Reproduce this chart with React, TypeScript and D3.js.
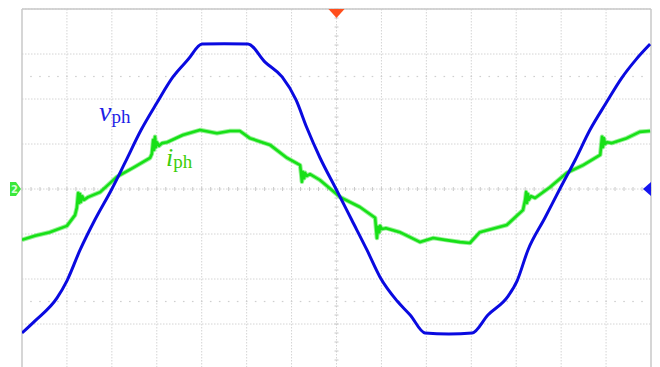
import React from "react";
import * as d3 from "d3";

// Screen geometry: 14 horizontal divisions, 8 vertical divisions (bottom row clipped).
const WIDTH = 660;
const HEIGHT = 367;
const PLOT_LEFT = 22;
const PLOT_RIGHT = 651;
const PLOT_TOP = 9;
const DIV_PX = 45;

const xDivisions = d3.range(0, 15);
const yDivisions = d3.range(-4, 5);

// Phase voltage v_ph : [time (div), amplitude (div)]
const phaseVoltage: [number, number][] = [
  [0, -3.2], [0.29, -2.93], [0.78, -2.42], [1.0, -2.04], [1.29, -1.36],
  [1.62, -0.69], [2.0, 0], [2.29, 0.58], [2.65, 1.31], [3.0, 1.91],
  [3.36, 2.49], [3.69, 2.87], [4.01, 3.22], [4.5, 3.23], [5.03, 3.22],
  [5.41, 2.82], [5.79, 2.49], [6.1, 1.98], [6.34, 1.36], [6.63, 0.7],
  [6.99, 0], [7.34, -0.69], [7.68, -1.36], [7.97, -1.96], [8.35, -2.49],
  [8.64, -2.8], [8.97, -3.2], [9.5, -3.22], [10.02, -3.2], [10.37, -2.8],
  [10.82, -2.38], [11.02, -2.04], [11.26, -1.36], [11.64, -0.64], [11.97, 0],
  [12.31, 0.64], [12.64, 1.31], [13.0, 1.91], [13.35, 2.47], [13.66, 2.87],
  [13.98, 3.22],
];

// Phase current i_ph : [time (div), amplitude (div)]
const phaseCurrent: [number, number][] = [
  [0.0, -1.13], [0.29, -1.04], [0.62, -0.96], [1.0, -0.82], [1.18, -0.58],
  [1.22, -0.42], [1.25, -0.09], [1.27, -0.31], [1.29, -0.11], [1.31, -0.29],
  [1.34, -0.16], [1.38, -0.24], [1.47, -0.18], [1.74, -0.07], [2.11, 0.27],
  [2.47, 0.47], [2.85, 0.69], [2.89, 0.78], [2.92, 1.09], [2.94, 0.87],
  [2.96, 1.16], [2.98, 0.93], [3.0, 1.04], [3.05, 0.96], [3.12, 1.02],
  [3.23, 1.04], [3.58, 1.2], [3.96, 1.31], [4.34, 1.24], [4.63, 1.29],
  [4.85, 1.29], [5.07, 1.13], [5.52, 0.98], [5.9, 0.69], [6.19, 0.53],
  [6.21, 0.36], [6.23, 0.16], [6.25, 0.38], [6.28, 0.24], [6.3, 0.36],
  [6.34, 0.29], [6.41, 0.33], [6.63, 0.2], [7.08, -0.18], [7.52, -0.4],
  [7.86, -0.64], [7.88, -0.87], [7.9, -1.09], [7.92, -0.84], [7.95, -0.96],
  [7.97, -0.82], [8.01, -0.89], [8.1, -0.87], [8.41, -0.96], [8.86, -1.18],
  [9.15, -1.09], [9.41, -1.13], [9.75, -1.18], [9.97, -1.2], [10.19, -0.96],
  [10.79, -0.8], [11.15, -0.47], [11.2, -0.24], [11.22, -0.07], [11.24, -0.31],
  [11.26, -0.11], [11.28, -0.24], [11.33, -0.16], [11.42, -0.2], [11.75, 0.04],
  [12.13, 0.36], [12.49, 0.53], [12.87, 0.76], [12.89, 0.96], [12.91, 1.16],
  [12.93, 0.93], [12.95, 1.13], [12.98, 1.0], [13.02, 1.04], [13.13, 1.02],
  [13.46, 1.13], [13.75, 1.27], [13.98, 1.29],
];

const GRID = "#d4d4d4";
const BORDER = "#c8c8c8";
const BLUE = "#0a0ae0";
const GREEN = "#17e017";

export default function App() {
  const x = d3.scaleLinear().domain([0, 14]).range([PLOT_LEFT, PLOT_RIGHT]);
  const y = d3
    .scaleLinear()
    .domain([-4, 4])
    .range([PLOT_TOP + 8 * DIV_PX, PLOT_TOP]);

  const voltagePath = d3
    .line<[number, number]>()
    .x((d) => x(d[0]))
    .y((d) => y(d[1]))
    .curve(d3.curveMonotoneX)(phaseVoltage) as string;

  const currentPath = d3
    .line<[number, number]>()
    .x((d) => x(d[0]))
    .y((d) => y(d[1]))
    .curve(d3.curveLinear)(phaseCurrent) as string;

  const minorTicksX = d3.range(0, 14.01, 0.2);
  const minorTicksY = d3.range(-4, 4.01, 0.2);
  const cx = x(7);
  const cy = y(0);

  return (
    <svg
      width={WIDTH}
      height={HEIGHT}
      viewBox={`0 0 ${WIDTH} ${HEIGHT}`}
      style={{ position: "absolute", left: 0, top: 0, background: "#fff" }}
    >
      <defs>
        <clipPath id="screen">
          <rect x={PLOT_LEFT} y={PLOT_TOP} width={PLOT_RIGHT - PLOT_LEFT} height={HEIGHT - PLOT_TOP} />
        </clipPath>
      </defs>

      {/* graticule */}
      <g>
        {xDivisions.slice(1, -1).map((d) => (
          <line
            key={`vx${d}`}
            x1={x(d)}
            x2={x(d)}
            y1={PLOT_TOP}
            y2={HEIGHT}
            stroke={GRID}
            strokeWidth={1}
            strokeDasharray="1.5 1.5"
          />
        ))}
        {yDivisions.slice(1).map((d) => (
          <line
            key={`hy${d}`}
            x1={PLOT_LEFT}
            x2={PLOT_RIGHT}
            y1={y(d)}
            y2={y(d)}
            stroke={GRID}
            strokeWidth={1}
            strokeDasharray="1.5 1.5"
          />
        ))}
        {/* sparse dotted guides at ±2.5 div */}
        {[2.5, -2.5].map((lv) =>
          minorTicksX.slice(1, -1).map((t, i) => (
            <rect
              key={`g${lv}-${i}`}
              x={x(t) - 0.8}
              y={y(lv) - 0.6}
              width={1.6}
              height={1.2}
              fill="#cfcfcf"
            />
          ))
        )}
        {/* minor ticks on the centre axes */}
        {minorTicksX.map((t, i) => (
          <line
            key={`tx${i}`}
            x1={x(t)}
            x2={x(t)}
            y1={cy - 2}
            y2={cy + 2}
            stroke="#c8c8c8"
            strokeWidth={1}
          />
        ))}
        {minorTicksY.map((t, i) => (
          <line
            key={`ty${i}`}
            x1={cx - 2}
            x2={cx + 2}
            y1={y(t)}
            y2={y(t)}
            stroke="#c8c8c8"
            strokeWidth={1}
          />
        ))}
        {/* screen border */}
        <line x1={PLOT_LEFT} x2={PLOT_RIGHT} y1={PLOT_TOP} y2={PLOT_TOP} stroke={BORDER} strokeWidth={1.5} />
        <line x1={PLOT_LEFT} x2={PLOT_LEFT} y1={PLOT_TOP} y2={HEIGHT} stroke={BORDER} strokeWidth={1.5} />
        <line x1={PLOT_RIGHT} x2={PLOT_RIGHT} y1={PLOT_TOP} y2={HEIGHT} stroke={BORDER} strokeWidth={1.5} />
      </g>

      {/* traces */}
      <g clipPath="url(#screen)">
        <path d={currentPath} fill="none" stroke={GREEN} strokeOpacity={0.45} strokeWidth={4.5} strokeLinejoin="round" />
        <path d={currentPath} fill="none" stroke={GREEN} strokeWidth={2.6} strokeLinejoin="round" />
        <path d={voltagePath} fill="none" stroke={BLUE} strokeWidth={3} strokeLinejoin="round" />
      </g>

      {/* trigger position marker */}
      <path
        d={`M${cx - 8},${PLOT_TOP} L${cx + 8},${PLOT_TOP} L${cx},${PLOT_TOP + 9} Z`}
        fill="#ff4e1c"
      />
      {/* channel 2 ground marker */}
      <path
        d={`M10,${cy - 7} L16,${cy - 7} L21,${cy} L16,${cy + 7} L10,${cy + 7} Z`}
        fill="#3be83b"
      />
      <text
        x={14.5}
        y={cy + 4}
        fontFamily="DejaVu Sans, sans-serif"
        fontSize={10}
        fontWeight="bold"
        fill="#d8ffd8"
        textAnchor="middle"
      >
        2
      </text>
      {/* trigger level marker */}
      <path
        d={`M${PLOT_RIGHT - 8},${cy} L${PLOT_RIGHT},${cy - 7} L${PLOT_RIGHT},${cy + 7} Z`}
        fill="#1414f0"
      />

      {/* trace labels */}
      <text x={99} y={121} fontFamily="Liberation Serif, Times New Roman, serif" fill="#1e1ee6">
        <tspan fontStyle="italic" fontSize={28}>v</tspan>
        <tspan fontSize={19} dy={2}>ph</tspan>
      </text>
      <text x={166} y={166} fontFamily="Liberation Serif, Times New Roman, serif" fill="#3ccd0a">
        <tspan fontStyle="italic" fontSize={26}>i</tspan>
        <tspan fontSize={19} dy={2}>ph</tspan>
      </text>
    </svg>
  );
}
